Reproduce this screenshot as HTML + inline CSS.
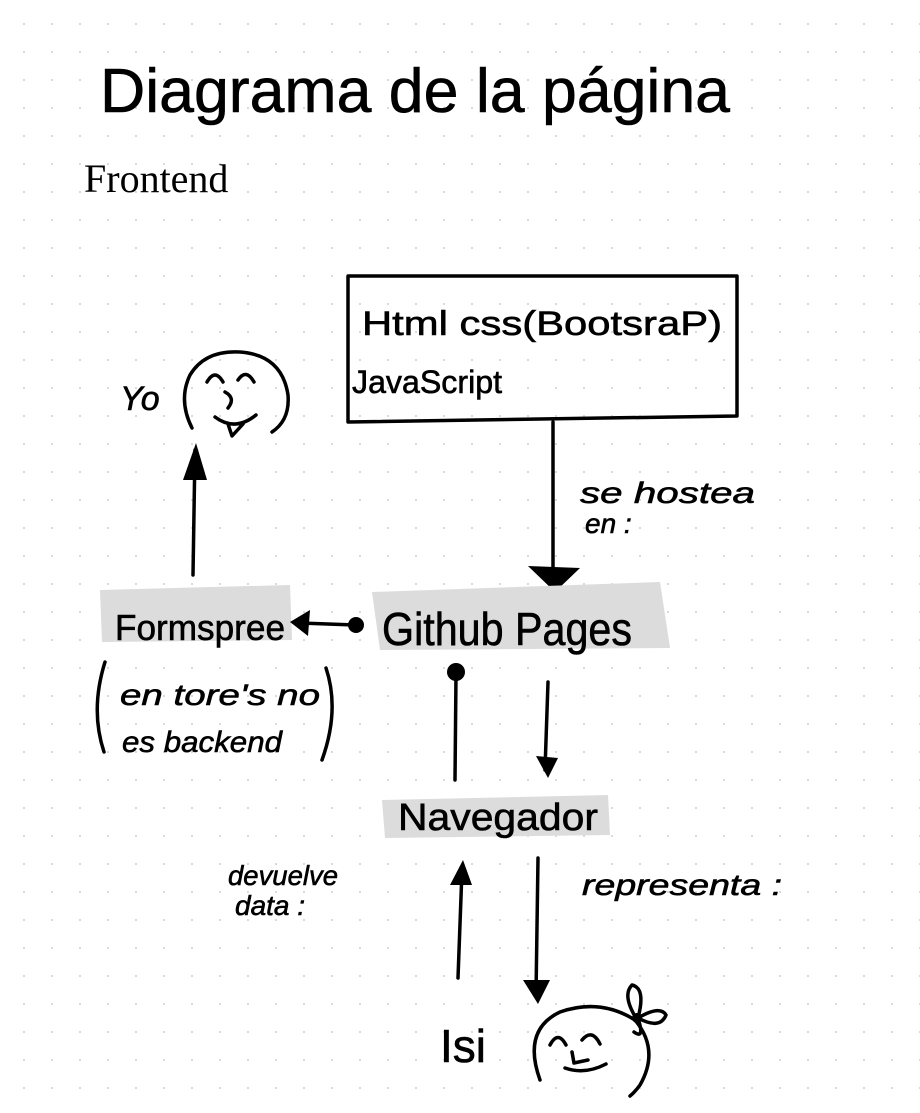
<!DOCTYPE html>
<html><head><meta charset="utf-8"><style>
html,body{margin:0;padding:0;background:#fff}
svg{display:block}
.h{font-family:"Liberation Sans",sans-serif;font-style:italic;fill:#000;stroke:#000;stroke-width:0.6}
.n{font-style:normal}
.l{fill:none;stroke:#000;stroke-width:3.5;stroke-linecap:round;stroke-linejoin:round}
</style></head><body>
<svg width="920" height="1113" viewBox="0 0 920 1113" xmlns="http://www.w3.org/2000/svg">
<defs><pattern id="g" x="0" y="0" width="28" height="28" patternUnits="userSpaceOnUse"><circle cx="24" cy="24" r="1" fill="#cfcfcf"/></pattern></defs>
<rect width="920" height="1113" fill="url(#g)"/>
<text class="h n" x="100" y="112" font-size="62" textLength="630" lengthAdjust="spacingAndGlyphs">Diagrama de la página</text>
<text x="84" y="192" font-family="Liberation Serif,serif" font-size="40" fill="#000">Frontend</text>
<path class="l" d="M348 276 L737 276 L737 416 L348 422 Z" stroke-width="3.5"/>
<text class="h n" x="362" y="335" font-size="34" textLength="360" lengthAdjust="spacingAndGlyphs">Html   css(BootsraP)</text>
<text class="h n" x="352" y="393" font-size="32" textLength="150" lengthAdjust="spacingAndGlyphs">JavaScript</text>
<text class="h" x="120" y="410" font-size="34">Yo</text>
<path class="l" d="M192 428 Q178 400 190 375 Q205 350 240 352 Q282 355 288 395 Q290 420 272 432" stroke-width="3"/>
<path class="l" d="M207 382 Q215 368 223 382 M238 380 Q246 368 254 382 M215 417 Q235 432 256 415 M225 392 Q236 398 228 408 M228 424 L232 436 L243 424" stroke-width="3"/>
<path class="l" d="M193 575 L195 450"/>
<path d="M183 480 L196 443 L207 480 Z" fill="#000"/>
<path class="l" d="M553 422 L553 575"/>
<path d="M528 566 L580 568 L555 592 Z" fill="#000"/>
<text class="h" x="580" y="503" font-size="30" textLength="175" lengthAdjust="spacingAndGlyphs">se hostea</text>
<text class="h" x="585" y="533" font-size="28">en :</text>
<path d="M100 590 L290 585 L292 640 L102 642 Z" fill="#dcdcdc"/>
<path d="M372 592 L660 582 L670 648 L380 650 Z" fill="#dcdcdc"/>
<path d="M382 800 L608 795 L610 835 L385 838 Z" fill="#dcdcdc"/>
<text class="h n" x="115" y="640" font-size="36" textLength="170" lengthAdjust="spacingAndGlyphs">Formspree</text>
<text class="h n" x="382" y="645" font-size="46" textLength="250" lengthAdjust="spacingAndGlyphs">Github Pages</text>
<path class="l" d="M300 623 L355 625"/>
<circle cx="356" cy="625" r="8" fill="#000"/>
<path d="M290 622 L310 610 L308 636 Z" fill="#000"/>
<path class="l" d="M105 662 Q90 710 104 752 M326 668 Q340 710 322 760" stroke-width="3"/>
<text class="h" x="120" y="705" font-size="30" textLength="200" lengthAdjust="spacingAndGlyphs">en tore's no</text>
<text class="h" x="122" y="752" font-size="30" textLength="160" lengthAdjust="spacingAndGlyphs">es backend</text>
<circle cx="456" cy="672" r="9" fill="#000"/>
<path class="l" d="M456 675 L455 780"/>
<path class="l" d="M548 682 L545 770"/>
<path d="M536 756 L558 758 L548 778 Z" fill="#000"/>
<text class="h n" x="398" y="830" font-size="38" textLength="200" lengthAdjust="spacingAndGlyphs">Navegador</text>
<path class="l" d="M458 978 L462 870"/>
<path d="M450 885 L463 860 L472 885 Z" fill="#000"/>
<path class="l" d="M538 858 L536 995"/>
<path d="M523 980 L550 980 L538 1004 Z" fill="#000"/>
<text class="h" x="228" y="885" font-size="28" textLength="110" lengthAdjust="spacingAndGlyphs">devuelve</text>
<text class="h" x="235" y="915" font-size="28">data :</text>
<text class="h" x="582" y="895" font-size="30" textLength="200" lengthAdjust="spacingAndGlyphs">representa :</text>
<text class="h n" x="440" y="1062" font-size="46">Isi</text>
<path class="l" d="M540 1080 Q522 1030 560 1012 Q600 998 635 1020 Q660 1050 640 1085 Q635 1092 630 1096" stroke-width="3"/>
<path class="l" d="M550 1045 Q558 1030 566 1045 M582 1040 Q592 1028 600 1044 M565 1068 Q585 1075 606 1064 M572 1052 L574 1063 L588 1060" stroke-width="3"/>
<path class="l" d="M636 1018 Q622 995 632 985 Q646 988 638 1018 Q660 1005 666 1015 Q660 1030 638 1018 Q645 1040 634 1032" stroke-width="3"/>
<circle cx="637" cy="1018" r="5" fill="#000"/>
</svg>
</body></html>
